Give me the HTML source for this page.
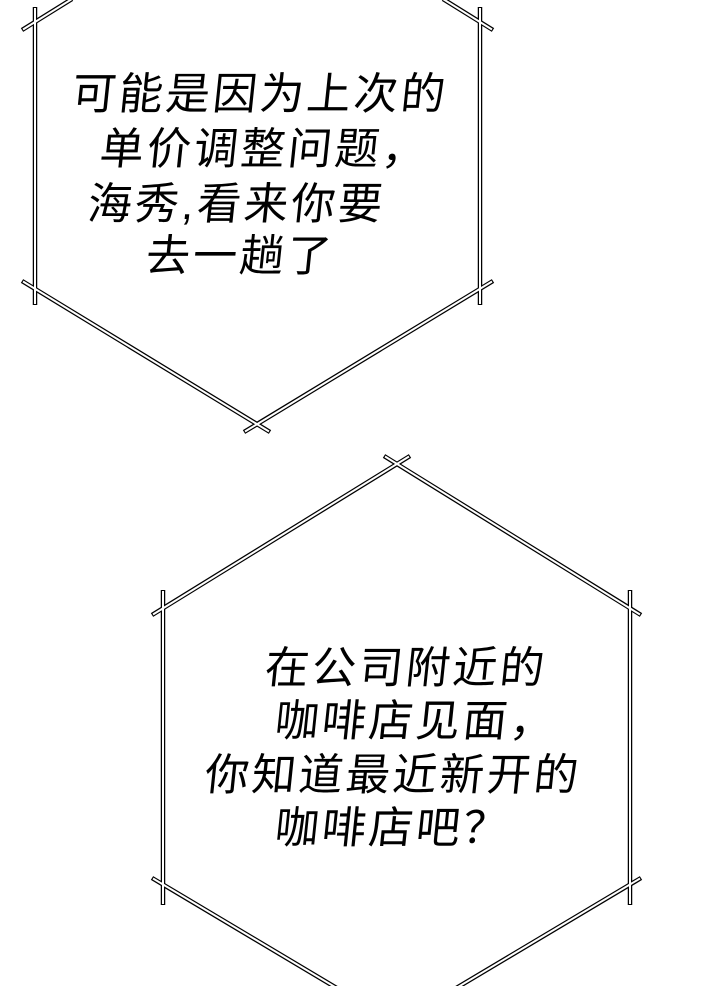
<!DOCTYPE html>
<html><head><meta charset="utf-8"><style>
body{margin:0;width:720px;height:986px;background:#fff;overflow:hidden;position:relative}
.t{position:absolute;font-family:"Liberation Sans","Noto Sans CJK SC",sans-serif;font-size:44px;letter-spacing:3px;color:#000;white-space:nowrap;transform:skewX(-6deg);line-height:1}
</style></head><body>
<svg width="720" height="986" style="position:absolute;left:0;top:0">
<g stroke-linecap="butt" fill="none">
<g stroke="#000" stroke-width="4.5">
<line x1="35" y1="7" x2="35" y2="305"/>
<line x1="22" y1="30" x2="72" y2="-1"/>
<line x1="22" y1="281" x2="270" y2="432"/>
<line x1="480" y1="7" x2="480" y2="305"/>
<line x1="493" y1="30" x2="443" y2="-1"/>
<line x1="493" y1="281" x2="244" y2="432"/>
<line x1="163" y1="590" x2="163" y2="905"/>
<line x1="152" y1="615" x2="410" y2="456"/>
<line x1="641" y1="615" x2="384" y2="456"/>
<line x1="630" y1="590" x2="630" y2="905"/>
<line x1="152" y1="878" x2="340" y2="990"/>
<line x1="641" y1="878" x2="453" y2="990"/>
</g>
<g stroke="#fff" stroke-width="2">
<line x1="35" y1="8" x2="35" y2="304"/>
<line x1="23" y1="29.5" x2="72" y2="-1"/>
<line x1="23" y1="281.5" x2="269" y2="431.5"/>
<line x1="480" y1="8" x2="480" y2="304"/>
<line x1="492" y1="29.5" x2="443" y2="-1"/>
<line x1="492" y1="281.5" x2="245" y2="431.5"/>
<line x1="163" y1="591" x2="163" y2="904"/>
<line x1="153" y1="614.5" x2="409" y2="456.5"/>
<line x1="640" y1="614.5" x2="385" y2="456.5"/>
<line x1="630" y1="591" x2="630" y2="904"/>
<line x1="153" y1="878.5" x2="340" y2="990"/>
<line x1="640" y1="878.5" x2="453" y2="990"/>
</g>
</g>
</svg>
<div class="t" style="left:72px;top:73px">可能是因为上次的</div>
<div class="t" style="left:100px;top:128px">单价调整问题，</div>
<div class="t" style="left:88px;top:183px">海秀,看来你要</div>
<div class="t" style="left:146px;top:235px">去一趟了</div>
<div class="t" style="left:265px;top:647px">在公司附近的</div>
<div class="t" style="left:275px;top:700px">咖啡店见面，</div>
<div class="t" style="left:205px;top:754px">你知道最近新开的</div>
<div class="t" style="left:275px;top:807px">咖啡店吧？</div>
</body></html>
